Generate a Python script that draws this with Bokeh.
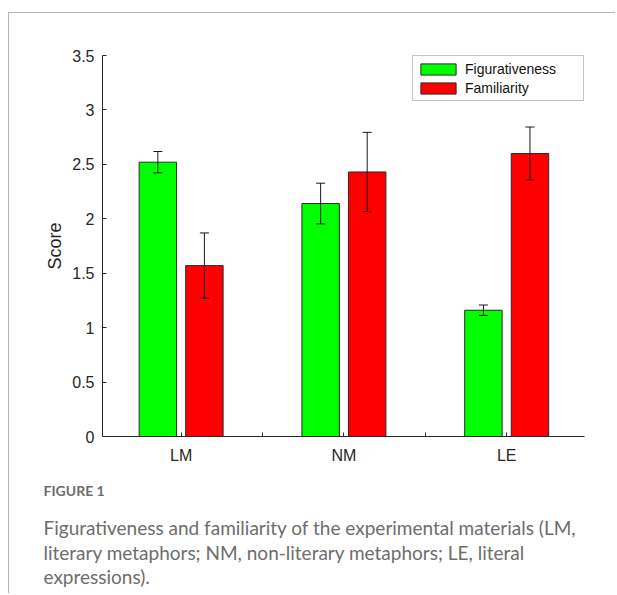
import numpy as np
from bokeh.plotting import figure
from bokeh.models import (ColumnDataSource, FixedTicker, Whisker, TeeHead, Legend,
                          LegendItem, Title, Range1d)
from bokeh.embed import file_html
from bokeh.resources import INLINE

# ---- data ----
categories = ["LM", "NM", "LE"]
figurativeness = [2.52, 2.14, 1.16]
figurativeness_err = [0.098, 0.187, 0.048]
familiarity = [1.57, 2.43, 2.60]
familiarity_err = [0.30, 0.364, 0.243]
y_ticks = [0, 0.5, 1, 1.5, 2, 2.5, 3, 3.5]
y_tick_labels = ["0", "0.5", "1", "1.5", "2", "2.5", "3", "3.5"]
x_minor_positions = [1.5, 2.5]

idx = np.arange(1, len(categories) + 1, dtype=float)
offset = 0.143
bar_w = 0.23

src_fig = ColumnDataSource(dict(
    x=idx - offset, top=figurativeness,
    upper=np.array(figurativeness) + np.array(figurativeness_err),
    lower=np.array(figurativeness) - np.array(figurativeness_err)))
src_fam = ColumnDataSource(dict(
    x=idx + offset, top=familiarity,
    upper=np.array(familiarity) + np.array(familiarity_err),
    lower=np.array(familiarity) - np.array(familiarity_err)))

FONT = "Liberation Sans"
AX = "#262626"

p = figure(width=607, height=581, output_backend="svg", toolbar_location=None,
           x_range=Range1d(0.517, 3.478), y_range=Range1d(0, 3.5),
           min_border_left=93, min_border_right=32, min_border_top=42,
           min_border_bottom=158)
p.styles = {"margin-top": "12px", "margin-left": "8px",
            "border-top": "1px solid #b4b4b4", "border-left": "1px solid #b4b4b4"}
p.outline_line_color = None
p.grid.visible = False
p.background_fill_color = "white"
p.border_fill_color = "white"

r_fig = p.vbar(x="x", top="top", width=bar_w, bottom=0, source=src_fig,
               fill_color="#00ff00", line_color="#2a2a2a", line_width=1)
r_fam = p.vbar(x="x", top="top", width=bar_w, bottom=0, source=src_fam,
               fill_color="#ff0000", line_color="#2a2a2a", line_width=1)

for src in (src_fig, src_fam):
    w = Whisker(base="x", upper="upper", lower="lower", source=src,
                line_color="#1a1a1a", line_width=1, level="overlay",
                upper_head=TeeHead(size=9, line_color="#1a1a1a", line_width=1),
                lower_head=TeeHead(size=9, line_color="#1a1a1a", line_width=1))
    p.add_layout(w)

# axes
xa = p.xaxis[0]
xa.ticker = FixedTicker(ticks=list(idx) + x_minor_positions)
overrides = {float(i): c for i, c in zip(idx, categories)}
for m in x_minor_positions:
    overrides[m] = ""
xa.major_label_overrides = overrides
ya = p.yaxis[0]
ya.ticker = FixedTicker(ticks=y_ticks)
ya.major_label_overrides = {float(t): l for t, l in zip(y_ticks, y_tick_labels)}
ya.axis_label = "Score"

for ax in (xa, ya):
    ax.major_tick_in = 4
    ax.major_tick_out = 0
    ax.minor_tick_line_color = None
    ax.axis_line_color = AX
    ax.major_tick_line_color = AX
    ax.major_label_text_font = FONT
    ax.major_label_text_font_size = "16px"
    ax.major_label_text_color = AX
    ax.axis_label_text_font = FONT
    ax.axis_label_text_font_size = "18px"
    ax.axis_label_text_font_style = "normal"
    ax.axis_label_text_color = AX
xa.major_label_standoff = 10
ya.major_label_standoff = 8
ya.axis_label_standoff = 4

legend = Legend(items=[LegendItem(label="Figurativeness", renderers=[r_fig]),
                       LegendItem(label="Familiarity", renderers=[r_fam])],
                location="top_right", margin=0, padding=3, spacing=0,
                glyph_width=44, glyph_height=14, label_height=19,
                label_standoff=5, label_width=115,
                label_text_font=FONT, label_text_font_size="14px",
                label_text_color="#111111",
                border_line_color="#8a8a8a", border_line_width=1,
                background_fill_alpha=1)
p.add_layout(legend)

CAP_FONT = "Lato"
CAP_COLOR = "#6d6d6d"
caption_lines = [
    "Figurativeness and familiarity of the experimental materials (LM,",
    "literary metaphors; NM, non-literary metaphors; LE, literal",
    "expressions).",
]
caption_standoffs = [2, -1, -1]
p.add_layout(Title(text="FIGURE 1", align="left", offset=-59, standoff=27,
                   text_font=CAP_FONT, text_font_style="bold",
                   text_font_size="14px", text_color=CAP_COLOR), "below")
for line, so in zip(caption_lines, caption_standoffs):
    p.add_layout(Title(text=line, align="left", offset=-59, standoff=so,
                       text_font=CAP_FONT, text_font_style="normal",
                       text_font_size="19px", text_color=CAP_COLOR), "below")

open("out.html", "w").write(file_html(p, INLINE))
